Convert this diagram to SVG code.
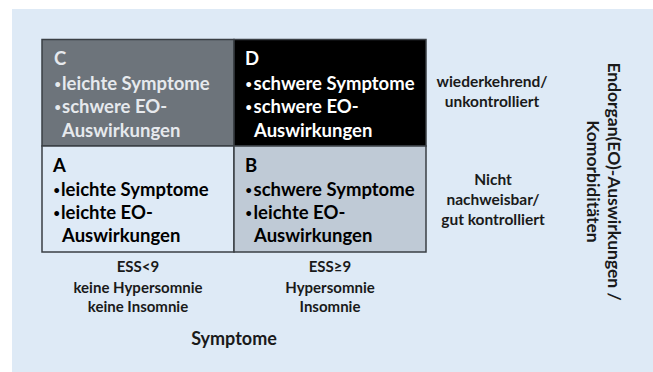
<svg xmlns="http://www.w3.org/2000/svg" width="653" height="372" viewBox="0 0 653 372">
<style>
text{font-family:Lato,"Open Sans","Liberation Sans",sans-serif;font-weight:bold}
.cell{font-size:18.5px}
.b{font-size:11px}
.lbl{font-size:15px;text-anchor:middle;fill:#1a1a1a}
.sm{font-size:15.5px}
.ax{font-size:18px;fill:#1a1a1a}
.rot{font-size:17.5px;fill:#1a1a1a}
.bd{stroke:#3a3f44;stroke-width:1.5}
</style>
<rect x="0" y="0" width="653" height="372" fill="#ffffff"/>
<rect x="12" y="9" width="641" height="363" fill="#deeaf6"/>
<g id="cell-C">
<rect x="42" y="39.5" width="192" height="106.5" fill="#6d747b" class="bd"/>
<text class="cell" fill="#e6e9ed"><tspan x="54" y="65">C</tspan><tspan class="b" x="54.5" y="87.5">•</tspan><tspan x="62" y="89.5">leichte Symptome</tspan><tspan class="b" x="54.5" y="111">•</tspan><tspan x="62" y="113">schwere EO-</tspan><tspan x="62" y="136.5">Auswirkungen</tspan></text>
</g>
<g id="cell-D">
<rect x="234" y="39.5" width="192" height="106.5" fill="#000000" class="bd"/>
<text class="cell" fill="#ffffff"><tspan x="245" y="65">D</tspan><tspan class="b" x="245.5" y="87.5">•</tspan><tspan x="253.5" y="89.5">schwere Symptome</tspan><tspan class="b" x="245.5" y="111">•</tspan><tspan x="253.5" y="113">schwere EO-</tspan><tspan x="254" y="136.5">Auswirkungen</tspan></text>
</g>
<g id="cell-A">
<rect x="42" y="146" width="192" height="106" fill="#deeaf6" class="bd"/>
<text class="cell" fill="#000000"><tspan x="53" y="172">A</tspan><tspan class="b" x="53.5" y="193.5">•</tspan><tspan x="61" y="195.5">leichte Symptome</tspan><tspan class="b" x="53.5" y="216.5">•</tspan><tspan x="61" y="218.5">leichte EO-</tspan><tspan x="62" y="242">Auswirkungen</tspan></text>
</g>
<g id="cell-B">
<rect x="234" y="146" width="192" height="106" fill="#bfcad6" class="bd"/>
<text class="cell" fill="#000000"><tspan x="245" y="172">B</tspan><tspan class="b" x="245.5" y="193.5">•</tspan><tspan x="253.5" y="195.5">schwere Symptome</tspan><tspan class="b" x="245.5" y="216.5">•</tspan><tspan x="253.5" y="218.5">leichte EO-</tspan><tspan x="254" y="242">Auswirkungen</tspan></text>
</g>
<g id="label-top">
<text class="lbl sm"><tspan x="492" y="87">wiederkehrend/</tspan><tspan x="492" y="107">unkontrolliert</tspan></text>
</g>
<g id="label-bottom">
<text class="lbl sm"><tspan x="493" y="185">Nicht</tspan><tspan x="493" y="205">nachweisbar/</tspan><tspan x="493" y="225">gut kontrolliert</tspan></text>
</g>
<g id="label-ess-low">
<text class="lbl"><tspan x="138" y="272">ESS&lt;9</tspan><tspan x="138" y="293">keine Hypersomnie</tspan><tspan x="138" y="312">keine Insomnie</tspan></text>
</g>
<g id="label-ess-high">
<text class="lbl"><tspan x="330" y="272">ESS≥9</tspan><tspan x="330" y="293">Hypersomnie</tspan><tspan x="330" y="312">Insomnie</tspan></text>
</g>
<g id="axis-x">
<text class="ax" x="234" y="345" text-anchor="middle">Symptome</text>
</g>
<g id="axis-y">
<text class="rot" text-anchor="middle" transform="translate(608,181.5) rotate(90)"><tspan x="0" y="0">Endorgan(EO)-Auswirkungen /</tspan><tspan x="0" y="21">Komorbiditäten</tspan></text>
</g>
<g id="connectors"></g>
</svg>
